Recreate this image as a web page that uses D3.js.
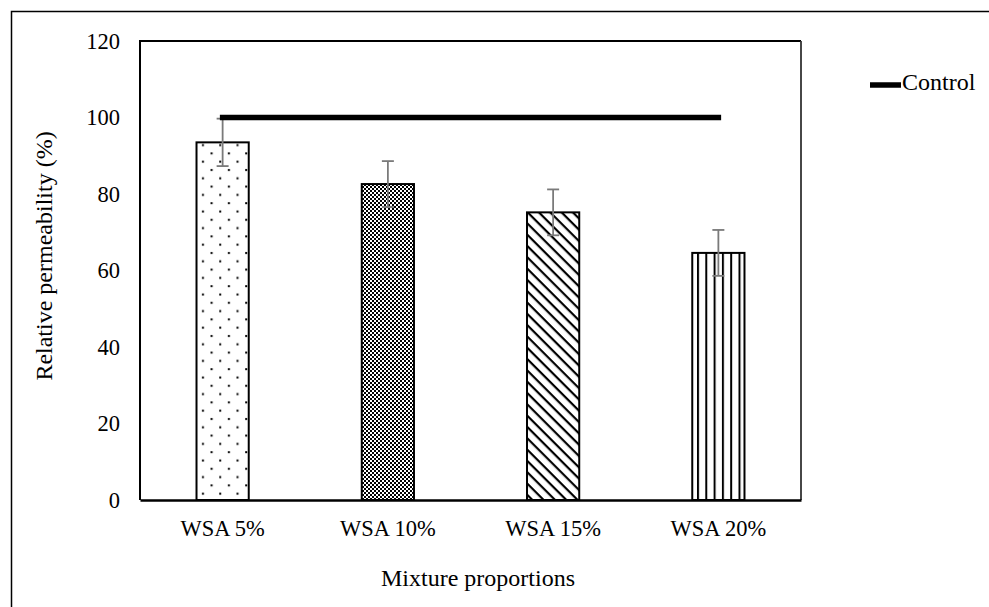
<!DOCTYPE html>
<html>
<head>
<meta charset="utf-8">
<script src="https://cdn.jsdelivr.net/npm/d3@7"></script>
<style>
  body { margin: 0; background: #fff; }
  svg { display: block; font-family: 'Liberation Serif', 'Times New Roman', serif; }
</style>
</head>
<body>
<div id="chart"></div>
<script>
const categories = ['WSA 5%', 'WSA 10%', 'WSA 15%', 'WSA 20%'];
const relPermeability = [93.5, 82.6, 75.2, 64.6];
const errors = [6.2, 6.0, 6.0, 6.0];
const controlValues = [100, 100, 100, 100];
const yTicks = [0, 20, 40, 60, 80, 100, 120];
const patterns = ['dots', 'checker', 'diag', 'vert'];

const w = 989;
const h = 607;
const plotLeft = 140, plotRight = 801, plotTop = 41, plotBottom = 500;

const svg = d3.select('#chart')
              .append('svg')
              .attr('width', w)
              .attr('height', h);

const defs = svg.append('defs');

// dotted pattern (staggered)
const pDots = defs.append('pattern')
                  .attr('id', 'dots')
                  .attr('patternUnits', 'userSpaceOnUse')
                  .attr('width', 17.3)
                  .attr('height', 16.6);
pDots.append('rect').attr('width', 17.3).attr('height', 16.6).attr('fill', '#fff');
pDots.append('rect').attr('x', 3).attr('y', 3).attr('width', 2).attr('height', 2).attr('fill', '#000');
pDots.append('rect').attr('x', 11.65).attr('y', 11.3).attr('width', 2).attr('height', 2).attr('fill', '#000');

// small checkerboard
const pChecker = defs.append('pattern')
                     .attr('id', 'checker')
                     .attr('patternUnits', 'userSpaceOnUse')
                     .attr('width', 4)
                     .attr('height', 4);
pChecker.append('rect').attr('width', 4).attr('height', 4).attr('fill', '#fff');
pChecker.append('rect').attr('width', 2).attr('height', 2).attr('fill', '#000');
pChecker.append('rect').attr('x', 2).attr('y', 2).attr('width', 2).attr('height', 2).attr('fill', '#000');

// diagonal stripes "\"
const pDiag = defs.append('pattern')
                  .attr('id', 'diag')
                  .attr('patternUnits', 'userSpaceOnUse')
                  .attr('width', 8)
                  .attr('height', 8)
                  .attr('patternTransform', 'rotate(45)');
pDiag.append('rect').attr('width', 8).attr('height', 8).attr('fill', '#fff');
pDiag.append('rect').attr('width', 8).attr('height', 2.2).attr('fill', '#000');

// vertical lines
const pVert = defs.append('pattern')
                  .attr('id', 'vert')
                  .attr('patternUnits', 'userSpaceOnUse')
                  .attr('width', 8.3)
                  .attr('height', 8)
                  .attr('x', 697);
pVert.append('rect').attr('width', 8.3).attr('height', 8).attr('fill', '#fff');
pVert.append('rect').attr('width', 2).attr('height', 8).attr('fill', '#000');

// outer chart border
svg.append('rect')
   .attr('x', 11.5)
   .attr('y', 11.5)
   .attr('width', 1000)
   .attr('height', 1000)
   .attr('fill', 'none')
   .attr('stroke', '#000')
   .attr('stroke-width', 1.5);

const xScale = d3.scaleBand()
                 .domain(categories)
                 .range([plotLeft, plotRight]);
const yScale = d3.scaleLinear()
                 .domain([0, 120])
                 .range([plotBottom, plotTop]);
const barW = xScale.bandwidth() * 0.316;

// plot frame
svg.append('line').attr('x1', plotLeft).attr('x2', plotRight).attr('y1', plotTop).attr('y2', plotTop)
   .attr('stroke', '#000').attr('stroke-width', 2);
svg.append('line').attr('x1', plotRight).attr('x2', plotRight).attr('y1', plotTop).attr('y2', plotBottom)
   .attr('stroke', '#333').attr('stroke-width', 1.8);
svg.append('line').attr('x1', plotLeft).attr('x2', plotLeft).attr('y1', plotTop - 1).attr('y2', plotBottom)
   .attr('stroke', '#000').attr('stroke-width', 2);

// bars
svg.selectAll('rect.bar')
   .data(relPermeability)
   .enter()
   .append('rect')
   .attr('class', 'bar')
   .attr('x', (d, i) => xScale(categories[i]) + (xScale.bandwidth() - barW) / 2)
   .attr('y', d => yScale(d))
   .attr('width', barW)
   .attr('height', d => plotBottom - yScale(d))
   .attr('fill', (d, i) => 'url(#' + patterns[i] + ')')
   .attr('stroke', '#000')
   .attr('stroke-width', 2);

// error bars
const cx = i => xScale(categories[i]) + xScale.bandwidth() / 2;
const err = svg.append('g')
               .attr('stroke', '#7a7a7a')
               .attr('stroke-width', 1.8);
relPermeability.forEach((d, i) => {
  err.append('line').attr('x1', cx(i)).attr('x2', cx(i))
     .attr('y1', yScale(d + errors[i])).attr('y2', yScale(d - errors[i]));
  err.append('line').attr('x1', cx(i) - 6).attr('x2', cx(i) + 6)
     .attr('y1', yScale(d + errors[i])).attr('y2', yScale(d + errors[i]));
  err.append('line').attr('x1', cx(i) - 6).attr('x2', cx(i) + 6)
     .attr('y1', yScale(d - errors[i])).attr('y2', yScale(d - errors[i]));
});

// control line
const line = d3.line()
               .x((d, i) => cx(i))
               .y(d => yScale(d));
svg.append('path')
   .datum(controlValues)
   .attr('d', line)
   .attr('fill', 'none')
   .attr('stroke', '#000')
   .attr('stroke-width', 5.5)
   .attr('stroke-linecap', 'square');

// axes
const yAxis = d3.axisLeft(yScale)
                .tickValues(yTicks)
                .tickSize(0)
                .tickPadding(20);
svg.append('g')
   .attr('transform', 'translate(' + plotLeft + ', 0)')
   .call(yAxis)
   .call(g => g.select('.domain').remove())
   .selectAll('text')
   .attr('font-size', 22.5)
   .attr('font-family', 'Liberation Serif')
   .attr('fill', '#000');

const xAxis = d3.axisBottom(xScale)
                .tickSize(0)
                .tickPadding(20);
svg.append('g')
   .attr('transform', 'translate(0, ' + plotBottom + ')')
   .call(xAxis)
   .call(g => g.select('.domain').attr('stroke', '#000').attr('stroke-width', 2.5))
   .selectAll('text')
   .attr('font-size', 22.5)
   .attr('font-family', 'Liberation Serif')
   .attr('fill', '#000');

// titles
svg.append('text')
   .text('Relative permeability (%)')
   .attr('transform', 'translate(52, 256) rotate(-90)')
   .attr('text-anchor', 'middle')
   .attr('font-size', 24);

svg.append('text')
   .text('Mixture proportions')
   .attr('x', 478)
   .attr('y', 586)
   .attr('text-anchor', 'middle')
   .attr('font-size', 24);

// legend
svg.append('line')
   .attr('x1', 870)
   .attr('x2', 901)
   .attr('y1', 85)
   .attr('y2', 85)
   .attr('stroke', '#000')
   .attr('stroke-width', 5.5);
svg.append('text')
   .text('Control')
   .attr('x', 902)
   .attr('y', 90)
   .attr('font-size', 24);
</script>
</body>
</html>
